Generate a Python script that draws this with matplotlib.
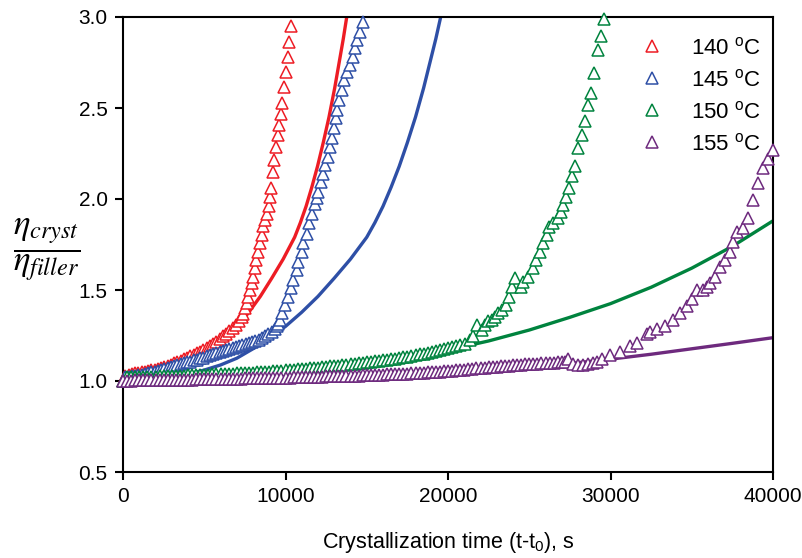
import matplotlib
matplotlib.use("Agg")
import matplotlib.pyplot as plt

plt.rcParams['font.family'] = ['Liberation Sans', 'DejaVu Sans']
plt.rcParams['mathtext.fontset'] = 'custom'
plt.rcParams['mathtext.rm'] = 'Liberation Sans'
plt.rcParams['mathtext.it'] = 'Liberation Sans:italic'
plt.rcParams['mathtext.bf'] = 'Liberation Sans:bold'

# ---------------- data ----------------
red_t = [0, 150, 350, 550, 750, 950, 1150, 1350, 1550, 1750, 1950, 2150, 2350, 2550,
         2750, 2950, 3150, 3350, 3550, 3750, 3950, 4150, 4350, 4550, 4750, 4950, 5150,
         5350, 5550, 5750, 5950, 6150, 6350, 6550, 6750, 6950, 7150, 7300, 7385, 7510,
         7610, 7690, 7815, 7920, 7980, 8100, 8185, 8310, 8430, 8535, 8630, 8740, 8840,
         8985, 9046, 9110, 9210, 9290, 9415, 9520, 9620, 9720, 9800, 9910, 10030, 10130,
         10220, 10340]
red_v = [1.0, 1.028, 1.034, 1.038, 1.042, 1.045, 1.048, 1.051, 1.055, 1.059, 1.063, 1.067,
         1.072, 1.077, 1.083, 1.09, 1.097, 1.104, 1.112, 1.12, 1.128, 1.136, 1.144, 1.153,
         1.162, 1.171, 1.181, 1.192, 1.204, 1.217, 1.231, 1.245, 1.26, 1.275, 1.292, 1.31,
         1.33, 1.35, 1.37, 1.40, 1.43, 1.463, 1.50, 1.54, 1.573, 1.62, 1.665, 1.71, 1.76,
         1.80, 1.85, 1.885, 1.92, 1.96, 2.01, 2.06, 2.148, 2.214, 2.285, 2.35, 2.407, 2.467,
         2.53, 2.615, 2.70, 2.78, 2.86, 2.95]

blue_t = [0, 150, 350, 550, 750, 950, 1150, 1350, 1550, 1750, 1950, 2150, 2350, 2550,
          2750, 2950, 3150, 3350, 3550, 3750, 3950, 4150, 4350, 4550, 4750, 4950, 5150,
          5350, 5550, 5750, 5950, 6150, 6350, 6550, 6750, 6950, 7150, 7350, 7550, 7750,
          7950, 8150, 8350, 8550, 8750, 8950, 9150, 9350, 9460, 9560, 9660, 9765, 9970,
          10170, 10320, 10480, 10690, 10790, 10995, 11095, 11305, 11465, 11610, 11815,
          11920, 12020, 12165, 12325, 12430, 12595, 12740, 12845, 12985, 13110, 13190,
          13310, 13460, 13600, 13765, 13970, 14155, 14275, 14380, 14585, 14750]
blue_v = [1.0, 1.02, 1.022, 1.025, 1.028, 1.031, 1.035, 1.039, 1.043, 1.047, 1.051, 1.056,
          1.061, 1.066, 1.071, 1.076, 1.081, 1.086, 1.091, 1.097, 1.102, 1.107, 1.113,
          1.118, 1.124, 1.129, 1.135, 1.141, 1.147, 1.153, 1.159, 1.165, 1.171, 1.177,
          1.183, 1.189, 1.195, 1.20, 1.205, 1.21, 1.215, 1.221, 1.228, 1.236, 1.245, 1.256,
          1.27, 1.287, 1.30, 1.315, 1.335, 1.374, 1.418, 1.463, 1.51, 1.555, 1.61, 1.655,
          1.71, 1.758, 1.81, 1.868, 1.92, 1.97, 2.005, 2.04, 2.095, 2.14, 2.187, 2.23,
          2.287, 2.335, 2.39, 2.445, 2.49, 2.544, 2.60, 2.654, 2.70, 2.736, 2.78, 2.83,
          2.874, 2.92, 2.97]

green_t = [0, 250, 500, 750, 1000, 1250, 1500, 1750, 2000, 2250, 2500, 2750, 3000, 3250,
           3500, 3750, 4000, 4250, 4500, 4750, 5000, 5250, 5500, 5750, 6000, 6250, 6500,
           6750, 7000, 7250, 7500, 7750, 8000, 8250, 8500, 8750, 9000, 9250, 9500, 9750,
           10000, 10250, 10500, 10750, 11000, 11250, 11500, 11750, 12000, 12250, 12500,
           12750, 13000, 13250, 13500, 13750, 14000, 14250, 14500, 14750, 15000, 15250,
           15500, 15750, 16000, 16250, 16500, 16750, 17000, 17250, 17500, 17750, 18000,
           18250, 18500, 18750, 19000, 19250, 19500, 19750, 20000, 20250, 20500, 20750,
           21045, 21355, 21555, 21765, 22075, 22275, 22480, 22690, 22890, 23095, 23305,
           23570, 23775, 23920, 24125, 24470, 24635, 24940, 25210, 25415, 25660, 25865,
           26075, 26235, 26480, 26790, 26955, 27100, 27240, 27445, 27650, 27815, 28020,
           28225, 28430, 28635, 28800, 29005, 29210, 29415, 29600]
green_v = [1.0, 1.02, 1.021, 1.021, 1.022, 1.022, 1.023, 1.023, 1.024, 1.025, 1.026,
           1.027, 1.027, 1.028, 1.029, 1.030, 1.031, 1.031, 1.032, 1.033, 1.034, 1.035,
           1.036, 1.037, 1.038, 1.039, 1.040, 1.041, 1.042, 1.043, 1.044, 1.045, 1.046,
           1.048, 1.049, 1.050, 1.052, 1.053, 1.055, 1.057, 1.059, 1.061, 1.063, 1.064,
           1.066, 1.068, 1.070, 1.072, 1.074, 1.076, 1.078, 1.080, 1.083, 1.085, 1.088,
           1.090, 1.093, 1.095, 1.098, 1.100, 1.103, 1.105, 1.108, 1.111, 1.114, 1.117,
           1.120, 1.123, 1.127, 1.130, 1.134, 1.138, 1.142, 1.146, 1.150, 1.155, 1.159,
           1.164, 1.169, 1.174, 1.180, 1.186, 1.192, 1.198, 1.205, 1.225, 1.245, 1.305,
           1.28, 1.308, 1.327, 1.335, 1.353, 1.372, 1.39, 1.418, 1.463, 1.514, 1.564, 1.518,
           1.546, 1.573, 1.62, 1.665, 1.71, 1.757, 1.80, 1.848, 1.866, 1.894, 1.927, 1.967,
           2.013, 2.058, 2.126, 2.18, 2.278, 2.35, 2.43, 2.516, 2.584, 2.694, 2.82, 2.897,
           2.99]

purple_t = [0, 250, 500, 750, 1000, 1250, 1500, 1750, 2000, 2250, 2500, 2750, 3000, 3250,
            3500, 3750, 4000, 4250, 4500, 4750, 5000, 5250, 5500, 5750, 6000, 6250, 6500,
            6750, 7000, 7250, 7500, 7750, 8000, 8250, 8500, 8750, 9000, 9250, 9500, 9750,
            10000, 10250, 10500, 10750, 11000, 11250, 11500, 11750, 12000, 12250, 12500,
            12750, 13000, 13250, 13500, 13750, 14000, 14250, 14500, 14750, 15000, 15250,
            15500, 15750, 16000, 16250, 16500, 16750, 17000, 17250, 17500, 17750, 18000,
            18250, 18500, 18750, 19000, 19250, 19500, 19750, 20000, 20250, 20500, 20750,
            21000, 21250, 21500, 21750, 22000, 22250, 22500, 22750, 23000, 23250, 23500,
            23750, 24000, 24250, 24500, 24750, 25000, 25250, 25500, 25750, 26000, 26250,
            26500, 26750, 27000, 27200, 27400, 27700, 28000, 28300, 28600, 28900, 29150,
            29500, 29970, 30585, 31200, 31600, 32230, 32430, 32840, 33350, 33865, 34275,
            34690, 35000, 35300, 35710, 35920, 36120, 36430, 36740, 37045, 37350, 37560,
            37765, 38170, 38480, 38790, 39100, 39400, 39710, 40000]
purple_v = [1.0, 1.002, 1.002, 1.003, 1.003, 1.004, 1.004, 1.005, 1.005, 1.005, 1.006,
            1.006, 1.006, 1.007, 1.007, 1.008, 1.008, 1.008, 1.009, 1.009, 1.010, 1.010,
            1.010, 1.011, 1.011, 1.012, 1.012, 1.012, 1.013, 1.013, 1.014, 1.014, 1.015,
            1.015, 1.016, 1.016, 1.017, 1.017, 1.018, 1.018, 1.019, 1.019, 1.020, 1.020,
            1.021, 1.022, 1.022, 1.023, 1.023, 1.024, 1.025, 1.025, 1.026, 1.027, 1.027,
            1.028, 1.029, 1.029, 1.030, 1.031, 1.032, 1.032, 1.033, 1.034, 1.035, 1.036,
            1.037, 1.038, 1.039, 1.040, 1.041, 1.042, 1.043, 1.045, 1.046, 1.047, 1.049,
            1.050, 1.052, 1.053, 1.055, 1.057, 1.059, 1.061, 1.063, 1.065, 1.067, 1.069,
            1.071, 1.073, 1.075, 1.077, 1.079, 1.081, 1.083, 1.085, 1.086, 1.088, 1.089,
            1.091, 1.092, 1.094, 1.095, 1.097, 1.098, 1.099, 1.100, 1.102, 1.104, 1.107,
            1.12, 1.092, 1.09, 1.09, 1.092, 1.098, 1.106, 1.12, 1.143, 1.161, 1.19, 1.207,
            1.26, 1.27, 1.285, 1.30, 1.335, 1.372, 1.41, 1.45, 1.50, 1.50, 1.518, 1.537,
            1.573, 1.628, 1.665, 1.71, 1.765, 1.82, 1.84, 1.894, 1.995, 2.086, 2.17, 2.22,
            2.27]

# fitted curves
red_fit_t = [0, 704, 1408, 2113, 2817, 3521, 4225, 4930, 5634, 6338, 7042, 7746, 8451,
             9155, 9859, 10563, 10915, 11268, 11620, 11972, 12324, 12676, 13028, 13380,
             13556, 13768]
red_fit_v = [1.0, 1.002, 1.008, 1.02, 1.038, 1.06, 1.088, 1.125, 1.177, 1.235, 1.30, 1.378,
             1.465, 1.565, 1.67, 1.79, 1.87, 1.96, 2.065, 2.18, 2.31, 2.45, 2.61, 2.79,
             2.88, 3.0]

blue_fit_t = [0, 1000, 2000, 3000, 4000, 5000, 6000, 7000, 8000, 9000, 10000, 11000,
              12000, 13000, 14000, 15000, 15500, 16000, 16500, 17000, 17500, 18000, 18500,
              19000, 19250, 19550]
blue_fit_v = [1.0, 1.002, 1.008, 1.02, 1.038, 1.06, 1.088, 1.125, 1.177, 1.235, 1.30, 1.378,
              1.465, 1.565, 1.67, 1.79, 1.87, 1.96, 2.065, 2.18, 2.31, 2.45, 2.61, 2.79,
              2.88, 3.0]

green_fit_t = [0, 2500, 5000, 7500, 10000, 12500, 15000, 17500, 20000, 22500, 25000,
               27500, 30000, 32500, 35000, 37500, 40000]
green_fit_v = [1.0, 1.003, 1.01, 1.022, 1.04, 1.062, 1.09, 1.127, 1.17, 1.22, 1.28, 1.35,
               1.425, 1.515, 1.62, 1.74, 1.88]

purple_fit_t = [0, 5000, 10000, 12500, 15000, 17500, 20000, 22500, 25000, 27500, 30000,
                32500, 35000, 37500, 40000]
purple_fit_v = [1.0, 1.0, 1.004, 1.009, 1.016, 1.024, 1.033, 1.05, 1.072, 1.096, 1.12,
                1.147, 1.177, 1.207, 1.238]

labels = ['140 $^{\\rm o}$C', '145 $^{\\rm o}$C', '150 $^{\\rm o}$C', '155 $^{\\rm o}$C']
colors = ['#ED1C24', '#2E4FA6', '#00833E', '#6E2A7E']

xticks = [0, 10000, 20000, 30000, 40000]
yticks = [0.5, 1.0, 1.5, 2.0, 2.5, 3.0]

# ---------------- plot ----------------
fig = plt.figure(figsize=(8.03, 5.58), dpi=100)
ax = fig.add_axes([123 / 803, 1 - 472 / 558, 650 / 803, 455 / 558])

series = [(red_t, red_v, red_fit_t, red_fit_v),
          (blue_t, blue_v, blue_fit_t, blue_fit_v),
          (green_t, green_v, green_fit_t, green_fit_v),
          (purple_t, purple_v, purple_fit_t, purple_fit_v)]

handles = []
for (t, v, ft, fv), c, lab in zip(series, colors, labels):
    ax.plot(ft, fv, '-', color=c, lw=2.4, zorder=2, solid_capstyle='butt')
    h, = ax.plot(t, v, '^', ms=8, mfc='white', mec=c, mew=1.1, ls='none',
                 label=lab, zorder=3, clip_on=False)
    handles.append(h)

ax.set_xlim(0, 40000)
ax.set_ylim(0.5, 3.0)
ax.set_xticks(xticks)
ax.set_xticklabels([str(x) for x in xticks])
ax.set_yticks(yticks)
ax.set_yticklabels(['%.1f' % y for y in yticks])
ax.tick_params(axis='both', direction='out', length=6, width=1.5, labelsize=15,
               top=False, right=False, pad=5)
for s in ax.spines.values():
    s.set_linewidth(1.5)

ax.set_xlabel('Crystallization time (t-t$_0$), s', fontsize=15.5, labelpad=17)

fig.text(0.058, 0.552, r'$\dfrac{\eta_{cryst}}{\eta_{filler}}$', fontsize=25,
         ha='center', va='center', math_fontfamily='stix')

leg = ax.legend(handles=handles, loc='upper right', bbox_to_anchor=(1.005, 0.99),
                frameon=False, fontsize=16, handletextpad=1.0, labelspacing=0.45,
                handlelength=1.5, borderaxespad=0.3)

fig.savefig('out.png', dpi=100)
